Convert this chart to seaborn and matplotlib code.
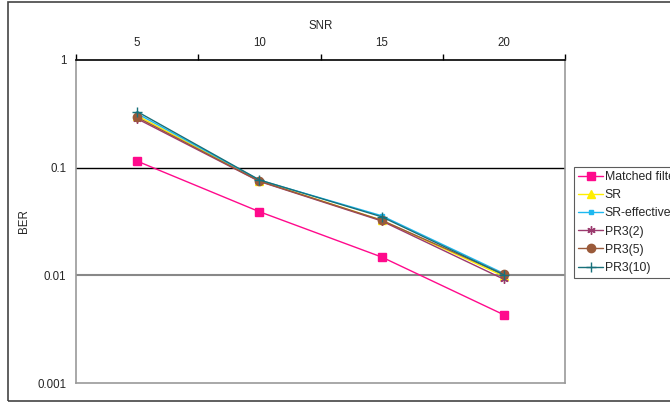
import pandas as pd
import seaborn as sns
import matplotlib.pyplot as plt
from matplotlib.patches import Rectangle

snr = [5, 10, 15, 20]
matched_filter = [0.115, 0.039, 0.0148, 0.0043]
sr = [0.305, 0.0755, 0.0325, 0.0098]
sr_effective = [0.318, 0.0765, 0.0358, 0.0104]
pr3_2 = [0.285, 0.0745, 0.0320, 0.0092]
pr3_5 = [0.294, 0.0750, 0.0325, 0.0102]
pr3_10 = [0.332, 0.0770, 0.0350, 0.0101]

series = {
    "Matched filter": matched_filter,
    "SR": sr,
    "SR-effective": sr_effective,
    "PR3(2)": pr3_2,
    "PR3(5)": pr3_5,
    "PR3(10)": pr3_10,
}
colors = ["#FF0A8C", "#FFEE00", "#1EB8F0", "#9B3A6E", "#9A5A3A", "#17707A"]
markers = ["s", "^", "s", (6, 2, 0), "o", "+"]
msizes = [6, 6, 3.5, 6, 6, 7]

df = pd.concat([pd.DataFrame({"SNR": snr, "BER": v, "series": k}) for k, v in series.items()])

sns.set_style("white")
plt.rcParams["font.family"] = ["Liberation Sans", "DejaVu Sans"]
plt.rcParams["font.size"] = 8

fig = plt.figure(figsize=(6.70, 4.03), dpi=100)
ax = fig.add_axes([76 / 670, 1 - 383 / 403, (565 - 76) / 670, (383 - 60) / 403])

for (name, _), c, m, ms in zip(series.items(), colors, markers, msizes):
    sns.lineplot(data=df[df["series"] == name], x="SNR", y="BER", ax=ax, color=c,
                 marker=m, markersize=ms, markeredgecolor=c, markeredgewidth=1,
                 linewidth=1, label=name)

ax.set_yscale("log")
ax.set_ylim(0.001, 1)
ax.set_xlim(2.5, 22.5)
ax.set_yticks([0.001, 0.01, 0.1, 1])
ax.set_yticklabels(["0.001", "0.01", "0.1", "1"])
ax.minorticks_off()
ax.set_xticks(snr)
ax.set_xticks([2.5, 7.5, 12.5, 17.5, 22.5], minor=True)
ax.xaxis.tick_top()
ax.xaxis.set_label_position("top")
ax.tick_params(axis="x", which="major", length=0, pad=8, labelsize=8.3)
ax.tick_params(axis="x", which="minor", length=4, width=1, color="black", direction="out")
ax.tick_params(axis="y", which="major", length=4, width=1, color="#777777", direction="out",
               labelsize=8.3, pad=3)
ax.set_xlabel("SNR", labelpad=6, fontsize=8.3)
ax.set_ylabel("BER", labelpad=5, fontsize=8.3)

ax.axhline(0.1, color="black", linewidth=1, zorder=0)
ax.axhline(0.01, color="#888888", linewidth=1.5, zorder=0)

ax.spines["top"].set_color("black")
ax.spines["top"].set_linewidth(1.2)
for s in ["left", "right", "bottom"]:
    ax.spines[s].set_color("#999999")
    ax.spines[s].set_linewidth(1.2)

leg = ax.legend(loc="upper left", bbox_to_anchor=(574 / 670, 1 - 167 / 403),
                bbox_transform=fig.transFigure, frameon=True, fancybox=False,
                edgecolor="#333333", handlelength=2.0, handletextpad=0.15,
                labelspacing=0.5, borderpad=0.35, borderaxespad=0, fontsize=8.8)
leg.get_frame().set_linewidth(0.8)

fig.patches.append(Rectangle((8 / 670, 2 / 403), 1.0, 399 / 403, transform=fig.transFigure,
                             fill=False, edgecolor="#444444", linewidth=1.2))

fig.savefig("out.png", dpi=100)
